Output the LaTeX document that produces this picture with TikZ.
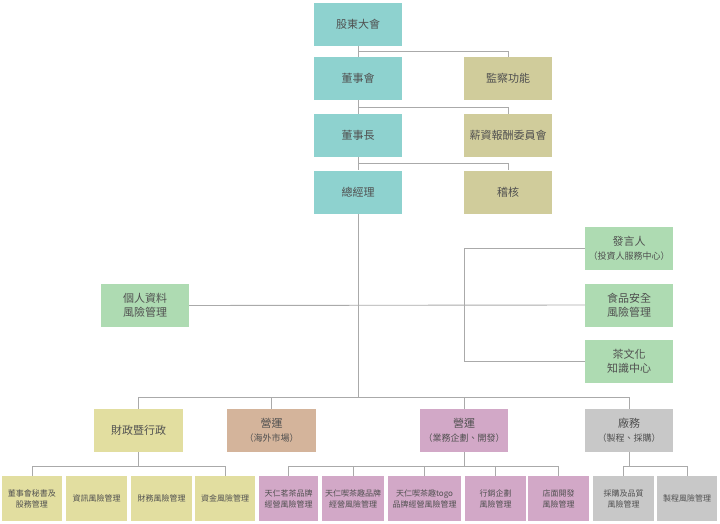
\documentclass[tikz,border=0pt]{standalone}
\usepackage{fontspec}
\newfontfamily\cjk{Noto Sans CJK TC}
\definecolor{cteal}{HTML}{8ED2CF}
\definecolor{ckhaki}{HTML}{D0CC9B}
\definecolor{cgreen}{HTML}{AEDBB2}
\definecolor{cyel}{HTML}{E2DEA0}
\definecolor{ctan}{HTML}{D4B49B}
\definecolor{cpink}{HTML}{D2A8C7}
\definecolor{cgray}{HTML}{C8C8C8}
\definecolor{ctxt}{HTML}{505050}
\definecolor{cline}{HTML}{AAAAAA}
\tikzset{
  box/.style={rectangle, inner sep=0pt, align=center, text=ctxt,
    minimum width=88pt, minimum height=43pt,
    font=\cjk\fontsize{11}{14}\selectfont},
  sbox/.style={rectangle, inner sep=0pt, align=center, text=ctxt,
    minimum height=45pt,
    font=\cjk\fontsize{8}{11}\selectfont},
  conn/.style={draw=cline, line width=0.9pt},
}
\newcommand{\subl}[1]{{\fontsize{9}{14}\selectfont #1}}
\begin{document}
\begin{tikzpicture}[x=1pt,y=-1pt]
\useasboundingbox[fill=white] (0,0) rectangle (720,524);
% top column
\node[box, fill=cteal] (gd) at (358,24.5) {股東大會};
\node[box, fill=cteal] (bd) at (358,78.5) {董事會};
\node[box, fill=cteal] (ch) at (358,135.5) {董事長};
\node[box, fill=cteal] (gm) at (358,192) {總經理};
\node[box, fill=ckhaki] (au) at (508,78.5) {監察功能};
\node[box, fill=ckhaki] (rc) at (508,135.5) {薪資報酬委員會};
\node[box, fill=ckhaki] (ia) at (508,192) {稽核};
% green
\node[box, fill=cgreen] (pd) at (145,305.5) {個人資料\\風險管理};
\node[box, fill=cgreen] (sp) at (629,248.5) {發言人\\\subl{（投資人服務中心）}};
\node[box, fill=cgreen] (fs) at (629,305) {食品安全\\風險管理};
\node[box, fill=cgreen] (tc) at (629,361.5) {茶文化\\知識中心};
% middle level
\node[box, fill=cyel, minimum width=89pt] (fa) at (138.5,430.5) {財政暨行政};
\node[box, fill=ctan, minimum width=89pt] (os) at (271.5,430.5) {營運\\\subl{（海外市場）}};
\node[box, fill=cpink] (op) at (464,430.5) {營運\\\subl{（業務企劃、開發）}};
\node[box, fill=cgray] (fc) at (629,430.5) {廠務\\\subl{（製程、採購）}};
% bottom level
\node[sbox, fill=cyel, minimum width=60pt] (b1) at (32,498.5) {董事會秘書及\\股務管理};
\node[sbox, fill=cyel, minimum width=61pt] (b2) at (96.5,498.5) {資訊風險管理};
\node[sbox, fill=cyel, minimum width=61pt] (b3) at (161.5,498.5) {財務風險管理};
\node[sbox, fill=cyel, minimum width=60pt] (b4) at (225,498.5) {資金風險管理};
\node[sbox, fill=cpink, minimum width=59pt] (b5) at (288.5,498.5) {天仁茗茶品牌\\經營風險管理};
\node[sbox, fill=cpink, minimum width=62pt] (b6) at (353,498.5) {天仁喫茶趣品牌\\經營風險管理};
\node[sbox, fill=cpink, minimum width=73pt] (b7) at (424.5,498.5) {天仁喫茶趣togo\\品牌經營風險管理};
\node[sbox, fill=cpink, minimum width=61pt] (b8) at (495.5,498.5) {行銷企劃\\風險管理};
\node[sbox, fill=cpink, minimum width=61pt] (b9) at (558.5,498.5) {店面開發\\風險管理};
\node[sbox, fill=cgray, minimum width=61pt] (b10) at (623.5,498.5) {採購及品質\\風險管理};
\node[sbox, fill=cgray, minimum width=60pt] (b11) at (687,498.5) {製程風險管理};
% coordinates
\coordinate (j1) at (358,51);
\coordinate (j2) at (358,107);
\coordinate (j3) at (358,163);
\coordinate (jm) at (358,397);
\coordinate (jl) at (138.5,397);
\coordinate (jr) at (629,397);
\coordinate (k1) at (464,248.5);
\coordinate (k2) at (464,361.5);
\coordinate (ya) at (138.5,466);
\coordinate (yl) at (32,466);
\coordinate (yr) at (225,466);
\coordinate (pa) at (464,466);
\coordinate (pl) at (288.5,466);
\coordinate (pr) at (558.5,466);
\coordinate (ga) at (629,466);
\coordinate (gl) at (623.5,466);
\coordinate (gr) at (687,466);
% connectors top
\draw[conn] (gd.south) -- (bd.north);
\draw[conn] (bd.south) -- (ch.north);
\draw[conn] (ch.south) -- (gm.north);
\draw[conn] (j1) -| (au.north);
\draw[conn] (j2) -| (rc.north);
\draw[conn] (j3) -| (ia.north);
\draw[conn] (gm.south) -- (jm);
\draw[conn] (pd.east) -- (fs.west);
\draw[conn] (sp.west) -- (k1) -- (k2) -- (tc.west);
% middle
\draw[conn] (jl) -- (jr);
\draw[conn] (jl) -- (fa.north);
\draw[conn] (os.north |- jl) -- (os.north);
\draw[conn] (op.north |- jl) -- (op.north);
\draw[conn] (jr) -- (fc.north);
% bottom
\draw[conn] (fa.south) -- (ya);
\draw[conn] (yl) -- (yr);
\draw[conn] (yl) -- (b1.north);
\draw[conn] (yr) -- (b4.north);
\draw[conn] (op.south) -- (pa);
\draw[conn] (pl) -- (pr);
\foreach \b in {b5,b6,b7,b8,b9}{\draw[conn] (\b.north |- pa) -- (\b.north);}
\draw[conn] (fc.south) -- (ga);
\draw[conn] (gl) -- (gr);
\draw[conn] (gl) -- (b10.north);
\draw[conn] (gr) -- (b11.north);
\end{tikzpicture}
\end{document}
